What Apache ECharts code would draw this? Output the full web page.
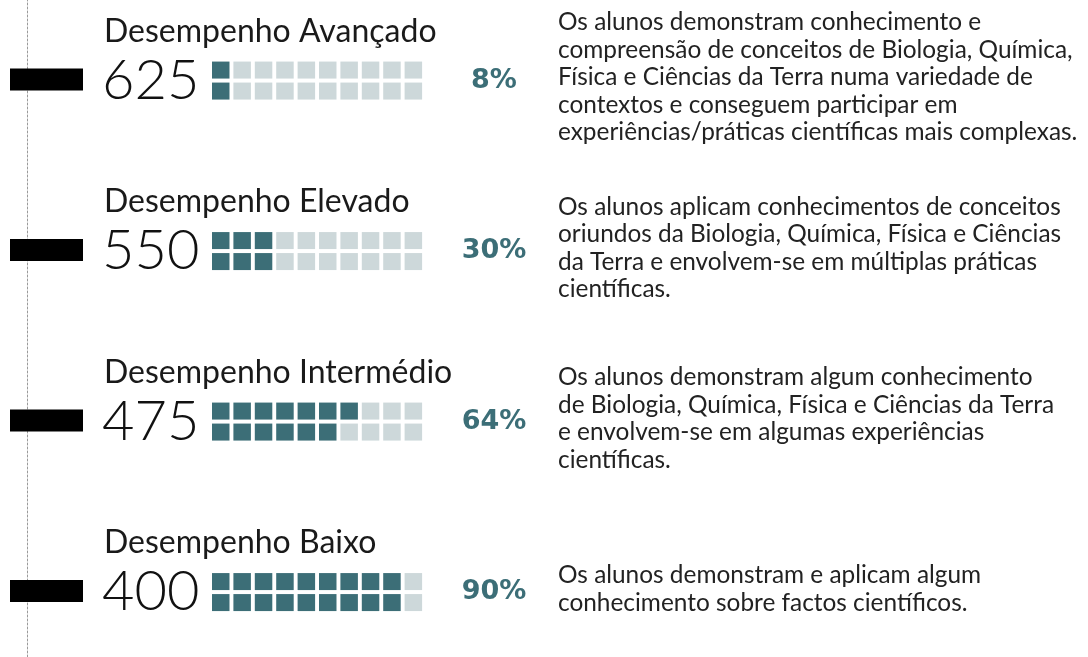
<!DOCTYPE html>
<html>
<head>
<meta charset="utf-8">
<script src="https://cdn.jsdelivr.net/npm/echarts@6/dist/echarts.min.js"></script>
<style>
  html, body { margin: 0; padding: 0; background: #fff; }
  #chart { width: 1088px; height: 657px; }
</style>
</head>
<body>
<div id="chart"></div>
<script>
const levels = ['Desempenho Avançado', 'Desempenho Elevado', 'Desempenho Intermédio', 'Desempenho Baixo']
const scores = [625, 550, 475, 400]
const percents = [8, 30, 64, 90]
const descriptions = [
  'Os alunos demonstram conhecimento e\ncompreensão de conceitos de Biologia, Química,\nFísica e Ciências da Terra numa variedade de\ncontextos e conseguem participar em\nexperiências/práticas científicas mais complexas.',
  'Os alunos aplicam conhecimentos de conceitos\noriundos da Biologia, Química, Física e Ciências\nda Terra e envolvem-se em múltiplas práticas\ncientíficas.',
  'Os alunos demonstram algum conhecimento\nde Biologia, Química, Física e Ciências da Terra\ne envolvem-se em algumas experiências\ncientíficas.',
  'Os alunos demonstram e aplicam algum\nconhecimento sobre factos científicos.'
]

const dark = '#3c6e77'
const light = '#cdd8da'
const font = 'Lato, "Noto Sans", sans-serif'

var chartDom = document.getElementById('chart')
var myChart = echarts.init(chartDom)

function renderRow(params, api) {
  const i = params.dataIndex
  const p = api.coord([0, api.value(0)])
  const x0 = p[0]
  const y = p[1]
  const pct = api.value(1)
  const filled = Math.round(pct / 5)
  const children = []

  // black marker on the axis
  children.push({
    type: 'rect',
    shape: { x: x0 - 17, y: y - 11, width: 73, height: 22 },
    style: { fill: '#000' }
  })
  children.push({
    type: 'text',
    style: {
      x: x0 + 77, y: y - 48, text: levels[i],
      font: '400 32px ' + font, fill: '#1a1a1a', verticalAlign: 'middle'
    }
  })
  children.push({
    type: 'text',
    style: {
      x: x0 + 75, y: y + 1, text: String(scores[i]),
      font: '300 56px ' + font, fill: '#111', verticalAlign: 'middle'
    }
  })
  // waffle 10 x 2, filled column by column
  for (let c = 0; c < 10; c++) {
    for (let r = 0; r < 2; r++) {
      const k = c * 2 + r
      children.push({
        type: 'rect',
        shape: { x: x0 + 185 + c * 21.4, y: y - 18 + r * 21, width: 17.5, height: 17 },
        style: { fill: k < filled ? dark : light }
      })
    }
  }
  children.push({
    type: 'text',
    style: {
      x: x0 + 467, y: y + 1, text: pct + '%',
      font: 'bold 27px "DejaVu Sans", sans-serif', fill: dark, align: 'center', verticalAlign: 'middle'
    }
  })
  children.push({
    type: 'text',
    style: {
      x: x0 + 531, y: y - 2, text: descriptions[i],
      font: '400 24.4px ' + font, fill: '#222', lineHeight: 27.5, verticalAlign: 'middle'
    }
  })
  return { type: 'group', children: children }
}

const option = {
  animation: false,
  grid: { left: 27, right: 0, top: 0, bottom: 0 },
  xAxis: { type: 'value', min: 0, max: 1061, show: false },
  yAxis: {
    type: 'value',
    min: 371,
    max: 660,
    axisLine: { show: true, lineStyle: { color: '#9a9a9a', width: 1, type: [2, 2] } },
    axisTick: { show: false },
    axisLabel: { show: false },
    splitLine: { show: false }
  },
  series: [
    {
      type: 'custom',
      renderItem: renderRow,
      data: scores.map((s, i) => [s, percents[i]]),
      clip: false
    }
  ]
}
option && myChart.setOption(option)
</script>
</body>
</html>
